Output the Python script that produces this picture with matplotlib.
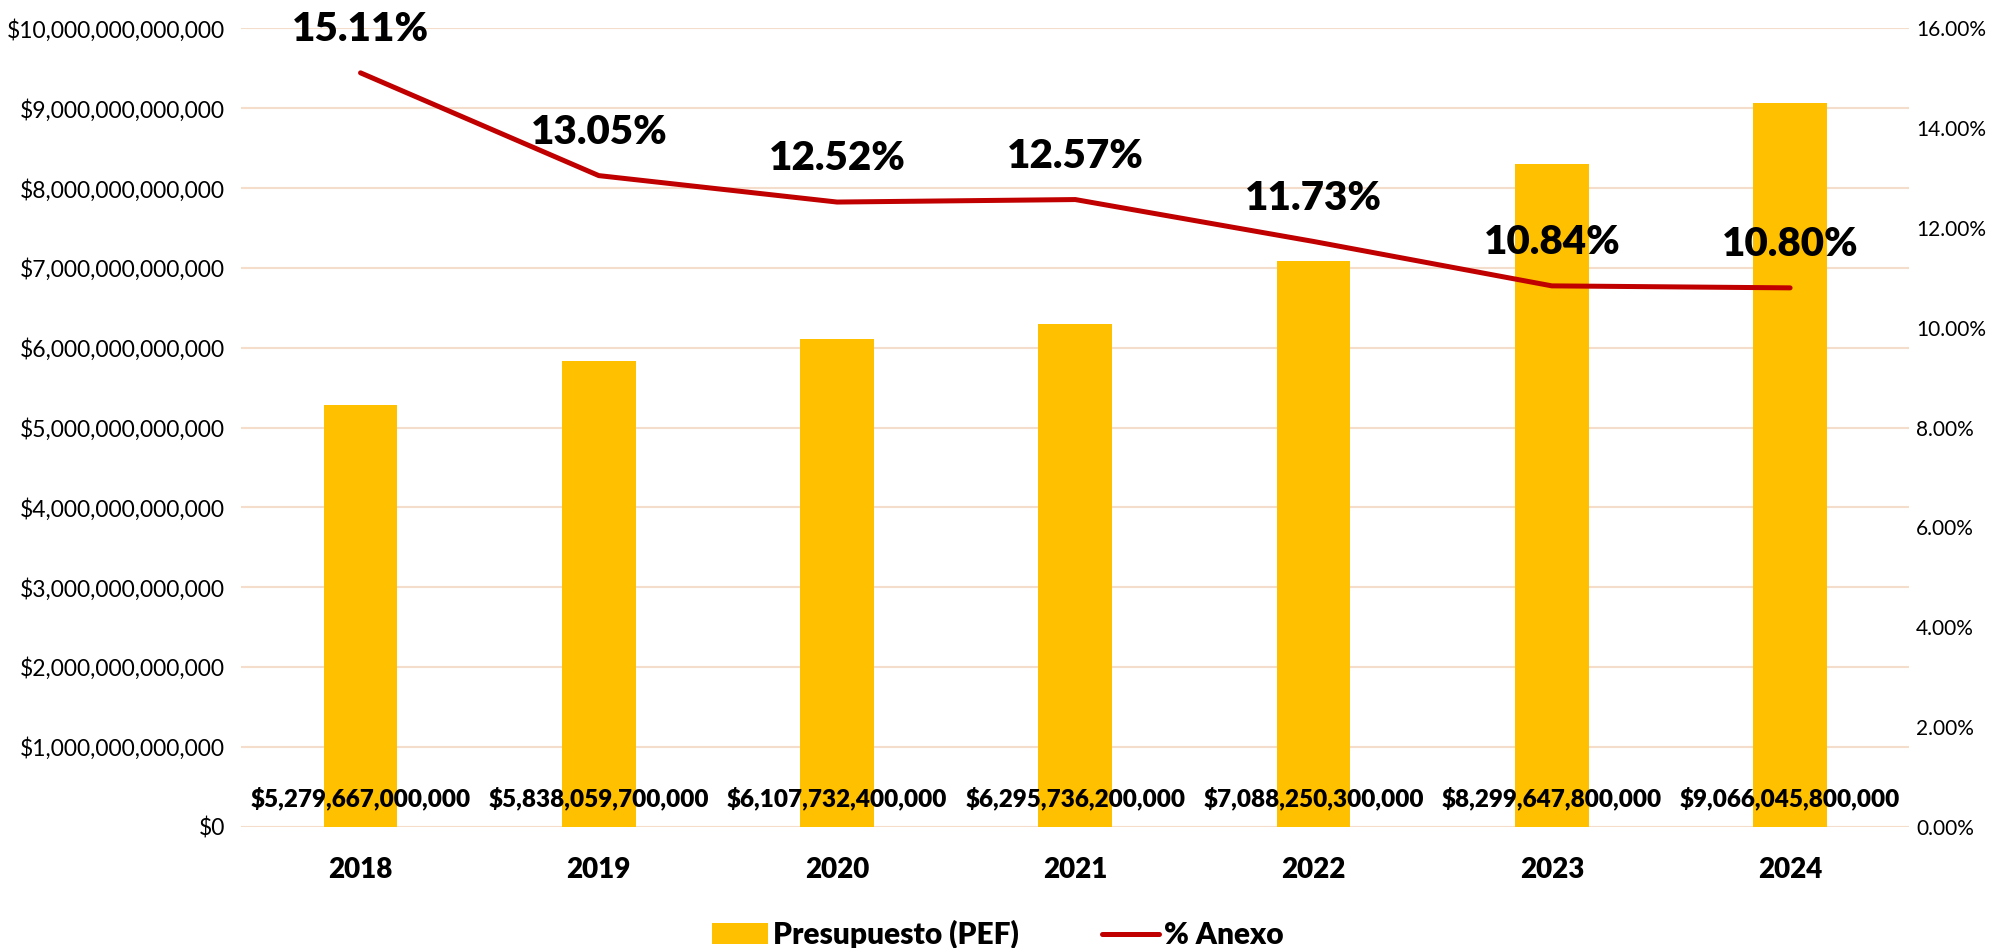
import matplotlib
matplotlib.use("Agg")
import matplotlib.pyplot as plt
from matplotlib.ticker import FuncFormatter, MultipleLocator
from matplotlib.patches import Patch
from matplotlib.lines import Line2D

plt.rcParams['font.family'] = ['Lato', 'DejaVu Sans']

years = ["2018", "2019", "2020", "2021", "2022", "2023", "2024"]
presupuesto = [5279667000000, 5838059700000, 6107732400000, 6295736200000,
               7088250300000, 8299647800000, 9066045800000]
pct_anexo = [15.11, 13.05, 12.52, 12.57, 11.73, 10.84, 10.80]

BAR_COLOR = "#FFC000"
LINE_COLOR = "#C00000"
GRID_COLOR = "#F5DDCB"
BOLD = 'heavy'

fig = plt.figure(figsize=(19.95, 9.48), dpi=100)
ax = fig.add_axes([0.121, 0.128, 0.836, 0.842])
ax2 = ax.twinx()

x = list(range(len(years)))
ax.bar(x, presupuesto, width=0.31, color=BAR_COLOR, zorder=2)
ax.set_xlim(-0.5, len(years) - 0.5)
ax.set_ylim(0, 10e12)
ax.yaxis.set_major_locator(MultipleLocator(1e12))
ax.yaxis.set_major_formatter(FuncFormatter(lambda v, p: "${:,.0f}".format(v)))
ax.grid(axis='y', color=GRID_COLOR, linewidth=1.5, zorder=0)
ax.set_axisbelow(True)
ax.set_xticks(x)
ax.set_xticklabels(years, fontsize=20, fontweight=BOLD)
ax.tick_params(axis='x', length=0, pad=22)
ax.tick_params(axis='y', length=0, labelsize=16.5, pad=12)
for s in ax.spines.values():
    s.set_visible(False)

for xi, v in zip(x, presupuesto):
    ax.annotate("${:,.0f}".format(v), xy=(xi, 0), xytext=(0, 20),
                textcoords='offset points', ha='center', va='center',
                fontsize=17.5, fontweight=BOLD, zorder=5)

ax2.plot(x, pct_anexo, color=LINE_COLOR, linewidth=3.6, solid_capstyle='round', zorder=4)
ax2.set_ylim(0, 16)
ax2.yaxis.set_major_locator(MultipleLocator(2))
ax2.yaxis.set_major_formatter(FuncFormatter(lambda v, p: "{:.2f}%".format(v)))
ax2.tick_params(axis='y', length=0, labelsize=15, pad=5)
for s in ax2.spines.values():
    s.set_visible(False)

for xi, v in zip(x, pct_anexo):
    ax2.annotate("{:.2f}%".format(v), xy=(xi, v), xytext=(0, 31),
                 textcoords='offset points', ha='center', va='center',
                 fontsize=29, fontweight=BOLD, zorder=6)

handles = [Patch(facecolor=BAR_COLOR, edgecolor='none'),
           Line2D([0], [0], color=LINE_COLOR, linewidth=3.6, solid_capstyle='round')]
fig.legend(handles, ["Presupuesto (PEF)", "% Anexo"], loc='center',
           bbox_to_anchor=(0.5, 0.014), ncol=2, frameon=False,
           prop={'size': 21.5, 'weight': BOLD}, handlelength=1.9,
           handletextpad=0.15, columnspacing=2.8)

fig.savefig("out.png", dpi=100)
